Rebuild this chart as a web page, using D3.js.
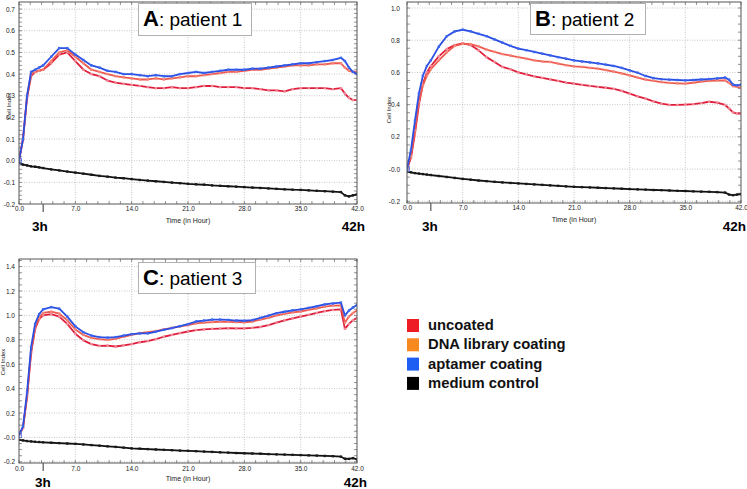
<!DOCTYPE html>
<html><head><meta charset="utf-8">
<script src="https://cdn.jsdelivr.net/npm/d3@7"></script>
<style>
html,body{margin:0;padding:0;background:#fff;}
svg{display:block;font-family:"Liberation Sans",Arial,sans-serif;}
</style></head>
<body><svg id="c" width="747" height="489"></svg>
<script>
// ---------------- DATA ----------------
const T = [0,0.5,1,1.5,2,2.5,3,4,5,6,7,8,9,10,11,12,13,14,15,16,17,18,19,20,21,22,23,24,25,26,27,28,29,30,31,32,33,34,35,36,37,38,39,40,40.5,41,41.5,42];

const seriesNames = ["uncoated","DNA library coating","aptamer coating","medium control"];
const xTickValues = [0,7,14,21,28,35,42];
const xTickLabels = ["0.0","7.0","14.0","21.0","28.0","35.0","42.0"];

// Panel A: patient 1
const A_uncoated = [0,0.10,0.29,0.39,0.41,0.415,0.42,0.45,0.49,0.50,0.46,0.42,0.40,0.39,0.37,0.36,0.355,0.35,0.345,0.34,0.335,0.335,0.34,0.335,0.335,0.34,0.345,0.345,0.34,0.34,0.34,0.335,0.335,0.33,0.325,0.325,0.32,0.33,0.335,0.335,0.335,0.335,0.33,0.335,0.31,0.29,0.28,0.28];
const A_dna      = [0,0.10,0.30,0.40,0.41,0.415,0.42,0.46,0.50,0.51,0.48,0.45,0.42,0.41,0.40,0.39,0.385,0.38,0.375,0.375,0.38,0.375,0.38,0.385,0.39,0.39,0.395,0.40,0.405,0.41,0.41,0.415,0.42,0.42,0.425,0.43,0.435,0.44,0.44,0.44,0.445,0.445,0.45,0.45,0.43,0.415,0.41,0.41];
const A_aptamer  = [0,0.10,0.30,0.41,0.42,0.43,0.44,0.48,0.52,0.52,0.49,0.465,0.44,0.43,0.415,0.41,0.40,0.40,0.395,0.39,0.395,0.39,0.39,0.40,0.405,0.41,0.405,0.41,0.415,0.42,0.42,0.42,0.425,0.425,0.43,0.435,0.44,0.445,0.45,0.45,0.455,0.46,0.465,0.475,0.46,0.43,0.41,0.40];
const A_medium   = [-0.01,-0.018,-0.022,-0.026,-0.028,-0.031,-0.034,-0.04,-0.045,-0.05,-0.055,-0.06,-0.065,-0.07,-0.074,-0.078,-0.081,-0.085,-0.089,-0.092,-0.095,-0.098,-0.101,-0.104,-0.107,-0.109,-0.111,-0.114,-0.116,-0.118,-0.12,-0.122,-0.124,-0.126,-0.128,-0.13,-0.132,-0.134,-0.135,-0.137,-0.139,-0.141,-0.143,-0.145,-0.16,-0.165,-0.16,-0.155];
const A_yTicks  = [0.7,0.6,0.5,0.4,0.3,0.2,0.1,0.0,-0.1,-0.2];
const A_yLabels = ["0.7","0.6","0.5","0.4","0.3","0.2","0.1","0.0","-0.1","-0.2"];

// Panel B: patient 2
const B_uncoated = [0,0.07,0.22,0.40,0.53,0.60,0.64,0.70,0.745,0.77,0.78,0.77,0.737,0.695,0.665,0.634,0.62,0.60,0.588,0.576,0.566,0.557,0.547,0.537,0.53,0.523,0.516,0.51,0.505,0.498,0.485,0.468,0.452,0.437,0.42,0.407,0.398,0.398,0.40,0.403,0.41,0.418,0.413,0.398,0.376,0.352,0.345,0.345];
const B_dna      = [0,0.08,0.24,0.42,0.52,0.58,0.62,0.675,0.725,0.765,0.778,0.776,0.762,0.742,0.728,0.714,0.705,0.695,0.685,0.675,0.668,0.665,0.655,0.645,0.638,0.634,0.628,0.623,0.615,0.605,0.594,0.582,0.568,0.556,0.548,0.54,0.535,0.532,0.53,0.536,0.543,0.547,0.55,0.55,0.535,0.515,0.51,0.506];
const B_aptamer  = [0,0.12,0.30,0.47,0.58,0.64,0.675,0.76,0.825,0.855,0.865,0.855,0.84,0.825,0.805,0.785,0.765,0.748,0.738,0.727,0.717,0.706,0.695,0.685,0.675,0.668,0.662,0.656,0.648,0.64,0.628,0.613,0.598,0.578,0.565,0.558,0.555,0.553,0.551,0.553,0.556,0.559,0.563,0.568,0.555,0.525,0.52,0.524];
const B_medium   = [-0.015,-0.02,-0.025,-0.028,-0.031,-0.034,-0.037,-0.043,-0.049,-0.055,-0.061,-0.066,-0.071,-0.075,-0.079,-0.083,-0.086,-0.089,-0.092,-0.095,-0.098,-0.101,-0.104,-0.107,-0.11,-0.112,-0.114,-0.116,-0.118,-0.12,-0.122,-0.124,-0.126,-0.128,-0.13,-0.131,-0.133,-0.135,-0.136,-0.138,-0.14,-0.141,-0.143,-0.146,-0.158,-0.162,-0.158,-0.156];
const B_yTicks  = [1.0,0.8,0.6,0.4,0.2,0.0,-0.2];
const B_yLabels = ["1.0","0.8","0.6","0.4","0.2","-0.0","-0.2"];

// Panel C: patient 3
const C_uncoated = [0.02,0.08,0.33,0.69,0.89,0.97,1.0,1.01,0.99,0.93,0.85,0.795,0.765,0.75,0.752,0.745,0.755,0.765,0.78,0.79,0.805,0.825,0.84,0.855,0.868,0.88,0.885,0.89,0.892,0.895,0.893,0.893,0.898,0.905,0.92,0.94,0.96,0.975,0.99,1.005,1.02,1.035,1.045,1.05,0.89,0.93,0.96,0.98];
const C_dna      = [0.02,0.08,0.34,0.70,0.90,0.98,1.02,1.03,1.015,0.96,0.885,0.84,0.815,0.805,0.80,0.808,0.825,0.84,0.855,0.862,0.872,0.885,0.898,0.91,0.92,0.935,0.94,0.945,0.948,0.947,0.945,0.944,0.95,0.965,0.98,1.0,1.012,1.025,1.032,1.045,1.058,1.072,1.08,1.082,0.94,0.99,1.02,1.04];
const C_aptamer  = [0.02,0.09,0.37,0.74,0.93,1.01,1.05,1.068,1.055,0.99,0.91,0.862,0.835,0.822,0.818,0.822,0.835,0.846,0.852,0.853,0.866,0.882,0.896,0.912,0.928,0.95,0.958,0.965,0.966,0.963,0.958,0.956,0.962,0.98,0.998,1.018,1.03,1.042,1.05,1.062,1.075,1.09,1.098,1.105,1.0,1.04,1.065,1.085];
const C_medium   = [-0.02,-0.025,-0.03,-0.033,-0.036,-0.038,-0.04,-0.044,-0.047,-0.05,-0.053,-0.058,-0.063,-0.068,-0.073,-0.078,-0.084,-0.09,-0.093,-0.096,-0.099,-0.102,-0.105,-0.108,-0.11,-0.113,-0.116,-0.119,-0.122,-0.125,-0.128,-0.13,-0.132,-0.134,-0.137,-0.139,-0.141,-0.143,-0.145,-0.147,-0.149,-0.152,-0.154,-0.158,-0.175,-0.176,-0.17,-0.18];
const C_yTicks  = [1.4,1.2,1.0,0.8,0.6,0.4,0.2,0.0,-0.2];
const C_yLabels = ["1.4","1.2","1.0","0.8","0.6","0.4","0.2","-0.0","-0.2"];

// ---------------- STYLE / LAYOUT ----------------
const legendColors = ["#ee1c24","#f7891f","#1f5ef2","#000000"];
const lineStyle = [
  {stroke:"#e01e3c", mark:"#f08c9a"},   // uncoated
  {stroke:"#ee5a4e", mark:"#f5867a"},   // DNA library
  {stroke:"#2a4fe2", mark:"#3a66f0"},   // aptamer
  {stroke:"#111111", mark:"#1a1a1a"}    // medium
];

const panels = [
  {letter:"A", title:": patient 1", series:[A_uncoated,A_dna,A_aptamer,A_medium],
   yTicks:A_yTicks, yLabels:A_yLabels, yDom:[-0.2,0.7], yRng:[204,9.1], yMinor:0.02,
   L:19, R:357, Tp:2, Bt:204, box:[138,3,113,32], lblRight:15, cellX:9, cellY:106,
   tickY:212, timeY:222.5, hY:231, h3x:32, h42x:365},
  {letter:"B", title:": patient 2", series:[B_uncoated,B_dna,B_aptamer,B_medium],
   yTicks:B_yTicks, yLabels:B_yLabels, yDom:[-0.2,1.0], yRng:[201.3,8], yMinor:0.05,
   L:407, R:741, Tp:2, Bt:203, box:[530,3,115,31], lblRight:400, cellX:389, cellY:110,
   tickY:211, timeY:222, hY:231, h3x:422, h42x:746},
  {letter:"C", title:": patient 3", series:[C_uncoated,C_dna,C_aptamer,C_medium],
   yTicks:C_yTicks, yLabels:C_yLabels, yDom:[-0.2,1.4], yRng:[461.8,266.6], yMinor:0.05,
   L:19, R:357, Tp:259, Bt:463, box:[138,262,117,31], lblRight:15, cellX:3, cellY:362,
   tickY:471.5, timeY:480.5, hY:486.5, h3x:35, h42x:367}
];

const svg = d3.select("#c");

panels.forEach((p,pi)=>{
  const x = d3.scaleLinear().domain([0,42]).range([p.L,p.R]);
  const y = d3.scaleLinear().domain(p.yDom).range(p.yRng);
  const g = svg.append("g");
  const clipId = "clip"+pi;
  svg.append("clipPath").attr("id",clipId).append("rect")
     .attr("x",p.L).attr("y",p.Tp).attr("width",p.R-p.L).attr("height",p.Bt-p.Tp);

  // grid
  const gg = g.append("g").attr("stroke","#b8b8b8").attr("stroke-dasharray","1,1.5").attr("stroke-width",0.8);
  xTickValues.filter(v=>v>0 && v<42).forEach(v=>{
    gg.append("line").attr("x1",x(v)).attr("x2",x(v)).attr("y1",p.Tp).attr("y2",p.Bt);
  });
  p.yTicks.forEach(v=>{
    const yy=y(v); if(yy<=p.Tp+1||yy>=p.Bt-1) return;
    gg.append("line").attr("x1",p.L).attr("x2",p.R).attr("y1",yy).attr("y2",yy);
  });

  // minor ticks (inside, all four sides)
  const xMinor = d3.range(0,42.01,1.4);
  const yMin = d3.range(Math.ceil(y.invert(p.Bt)/p.yMinor)*p.yMinor, y.invert(p.Tp), p.yMinor);
  const tg = g.append("g").attr("stroke","#666").attr("stroke-width",0.7);
  xMinor.forEach(v=>{
    const xx=x(v);
    tg.append("line").attr("x1",xx).attr("x2",xx).attr("y1",p.Bt).attr("y2",p.Bt-3);
    tg.append("line").attr("x1",xx).attr("x2",xx).attr("y1",p.Tp).attr("y2",p.Tp+3);
  });
  yMin.forEach(v=>{
    const yy=y(v);
    tg.append("line").attr("x1",p.L).attr("x2",p.L+3).attr("y1",yy).attr("y2",yy);
    tg.append("line").attr("x1",p.R).attr("x2",p.R-3).attr("y1",yy).attr("y2",yy);
  });

  // axes labels via d3 axes
  const xAxis = d3.axisBottom(x).tickValues(xTickValues).tickSize(0).tickPadding(0)
      .tickFormat((d,i)=>xTickLabels[i]);
  const xa = g.append("g").attr("transform",`translate(0,${p.tickY-5.5})`).call(xAxis);
  xa.select(".domain").remove();
  xa.selectAll("text").attr("font-size",6.5).attr("fill","#222").attr("font-family","Liberation Sans, Arial");
  const yAxis = d3.axisLeft(y).tickValues(p.yTicks).tickSize(0).tickPadding(0)
      .tickFormat((d,i)=>p.yLabels[i]);
  const ya = g.append("g").attr("transform",`translate(${p.lblRight},0)`).call(yAxis);
  ya.select(".domain").remove();
  ya.selectAll("text").attr("font-size",6.5).attr("fill","#222").attr("font-family","Liberation Sans, Arial");

  // 3h marker tick
  g.append("line").attr("x1",x(3)).attr("x2",x(3)).attr("y1",p.Bt).attr("y2",p.Bt+8)
   .attr("stroke","#333").attr("stroke-width",1);

  // axis titles
  g.append("text").attr("x",(p.L+p.R)/2).attr("y",p.timeY).attr("text-anchor","middle")
   .attr("font-size",7).attr("fill","#222").text("Time (in Hour)");
  g.append("text").attr("transform",`translate(${p.cellX+2},${p.cellY}) rotate(-90)`)
   .attr("text-anchor","middle").attr("font-size",6).attr("fill","#222").text("Cell Index");

  // series
  const lg = g.append("g").attr("clip-path",`url(#${clipId})`);
  const order=[3,0,1,2];
  order.forEach(si=>{
    const vals=p.series[si];
    const pts=T.map((t,i)=>({t:t,v:vals[i]}));
    const st=lineStyle[si];
    lg.append("path").datum(pts)
      .attr("d",d3.line().x(d=>x(d.t)).y(d=>y(d.v)))
      .attr("fill","none").attr("stroke",st.stroke).attr("stroke-width",1.8).attr("stroke-linejoin","round");
    lg.selectAll(null).data(pts).enter().append("rect")
      .attr("x",d=>x(d.t)-1.2).attr("y",d=>y(d.v)-1.2).attr("width",2.4).attr("height",2.4)
      .attr("fill",st.mark);
  });
  // start marker (open square)
  lg.append("rect").attr("x",x(0)-2.5).attr("y",y(p.series[2][0])-2.5).attr("width",5).attr("height",5)
    .attr("fill","none").attr("stroke","#4a70e8").attr("stroke-width",0.8);

  // frame
  g.append("rect").attr("x",p.L).attr("y",p.Tp).attr("width",p.R-p.L).attr("height",p.Bt-p.Tp)
   .attr("fill","none").attr("stroke","#555").attr("stroke-width",1);

  // title box
  g.append("rect").attr("x",p.box[0]+0.5).attr("y",p.box[1]+0.5).attr("width",p.box[2]).attr("height",p.box[3])
   .attr("fill","#fff").attr("stroke","#b0b0b0").attr("stroke-width",1);
  const tt=g.append("text").attr("x",p.box[0]+5).attr("y",p.box[1]+23).attr("fill","#000");
  tt.append("tspan").attr("font-weight","bold").attr("font-size",22).text(p.letter);
  tt.append("tspan").attr("font-size",19).text(p.title);

  // 3h / 42h labels
  g.append("text").attr("x",p.h3x).attr("y",p.hY).attr("font-weight","bold").attr("font-size",13.5).text("3h");
  g.append("text").attr("x",p.h42x).attr("y",p.hY).attr("text-anchor","end").attr("font-weight","bold").attr("font-size",13.5).text("42h");
});

// legend
const leg = svg.append("g");
seriesNames.forEach((n,i)=>{
  const yy = 319 + i*19.3;
  leg.append("rect").attr("x",407).attr("y",yy).attr("width",12).attr("height",13).attr("fill",legendColors[i]);
  leg.append("text").attr("x",428).attr("y",yy+11).attr("font-weight","bold").attr("font-size",14.8).attr("fill","#111").text(n);
});
</script></body></html>
